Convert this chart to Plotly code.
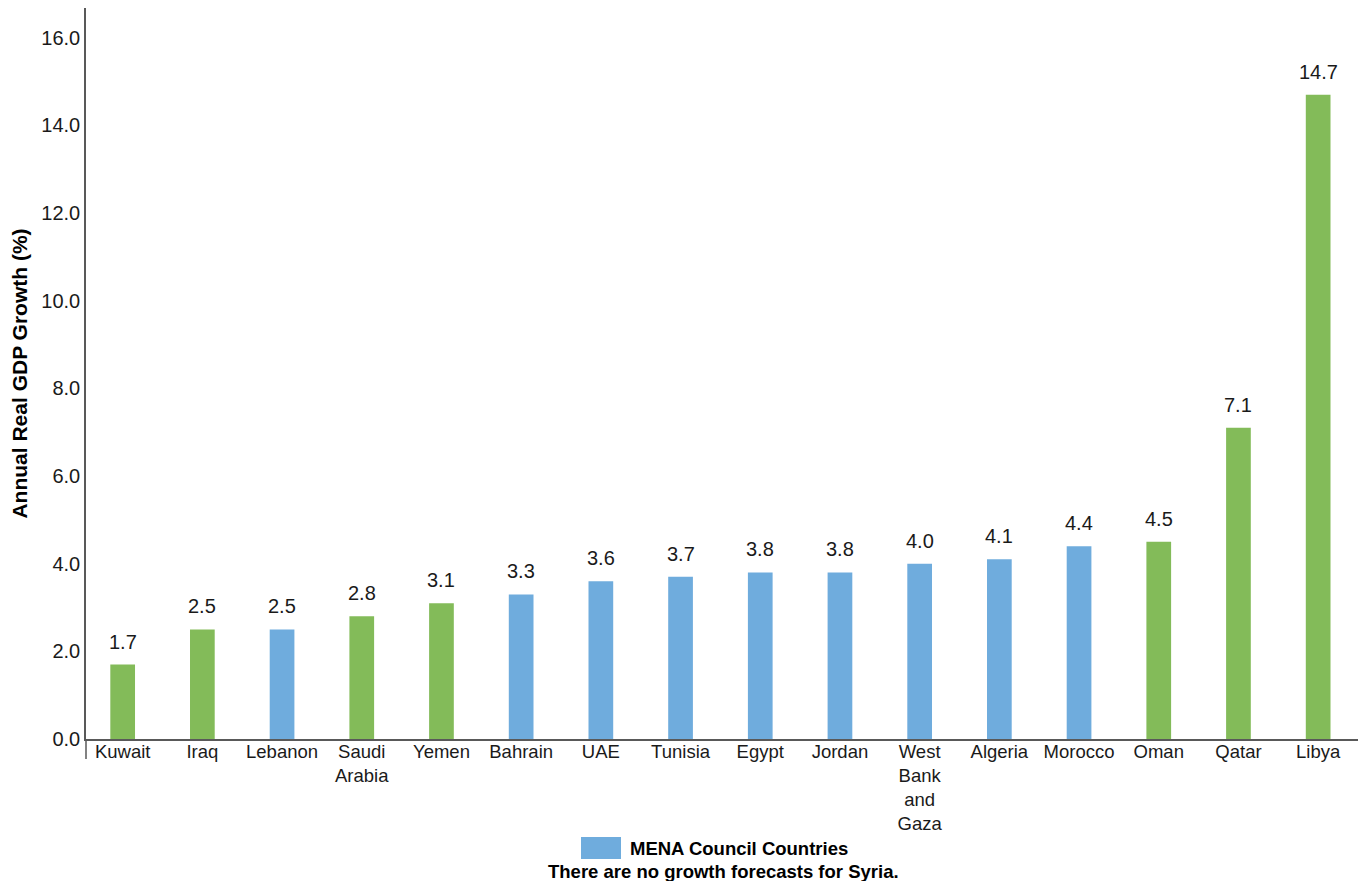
import plotly.graph_objects as go

# Annual real GDP growth forecasts by country (%)
countries = ["Kuwait", "Iraq", "Lebanon", "Saudi<br>Arabia", "Yemen", "Bahrain", "UAE",
             "Tunisia", "Egypt", "Jordan", "West<br>Bank<br>and<br>Gaza", "Algeria",
             "Morocco", "Oman", "Qatar", "Libya"]
growth = [1.7, 2.5, 2.5, 2.8, 3.1, 3.3, 3.6, 3.7, 3.8, 3.8, 4.0, 4.1, 4.4, 4.5, 7.1, 14.7]
mena_council = [False, False, True, False, False, True, True, True, True, True, True, True,
                True, False, False, False]
y_ticks = [0, 2, 4, 6, 8, 10, 12, 14, 16]

GREEN = "#83BB59"
BLUE = "#6FACDD"
FONT = "Liberation Sans, Arial, sans-serif"
AXIS_COLOR = "#595959"

colors = [BLUE if m else GREEN for m in mena_council]

fig = go.Figure()
fig.add_trace(go.Bar(
    x=countries, y=growth, marker=dict(color=colors, line=dict(width=0)),
    width=0.31, showlegend=False, hoverinfo="x+y",
))

# value labels above each bar
for c, v in zip(countries, growth):
    fig.add_annotation(x=c, y=v, text=f"{v:.1f}", showarrow=False,
                       yanchor="bottom", yshift=10,
                       font=dict(family=FONT, size=20, color="#1a1a1a"))

# legend swatch and notes below the chart
fig.add_shape(type="rect", xref="paper", yref="paper",
              x0=(581 - 86) / 1272, x1=(621 - 86) / 1272,
              y0=-(837 - 739) / 731, y1=-(859 - 739) / 731,
              fillcolor=BLUE, line=dict(width=0))
fig.add_annotation(xref="paper", yref="paper", x=(628 - 86) / 1272, y=-(848 - 739) / 731,
                   xanchor="left", yanchor="middle", showarrow=False,
                   text="<b>MENA Council Countries</b>",
                   font=dict(family=FONT, size=18.5, color="#000000"))
fig.add_annotation(xref="paper", yref="paper", x=(723 - 86) / 1272, y=-(871 - 739) / 731,
                   xanchor="center", yanchor="middle", showarrow=False,
                   text="<b>There are no growth forecasts for Syria.</b>",
                   font=dict(family=FONT, size=18.5, color="#000000"))

# short extension of the value axis below the baseline
fig.add_shape(type="line", xref="paper", yref="paper", x0=0, x1=0,
              y0=0, y1=-20 / 731, line=dict(color=AXIS_COLOR, width=1.5))

fig.update_layout(
    width=1365, height=881,
    margin=dict(l=86, r=7, t=8, b=142),
    paper_bgcolor="white", plot_bgcolor="white",
    font=dict(family=FONT, color="#1a1a1a"),
    bargap=0.69,
    xaxis=dict(
        type="category", range=[-0.46, 15.5],
        showline=True, linecolor=AXIS_COLOR, linewidth=1.5,
        showgrid=False, ticks="", tickangle=0, ticklabelstandoff=-5,
        tickfont=dict(family=FONT, size=18.5, color="#1a1a1a"),
    ),
    yaxis=dict(
        range=[0, 16.68], tickvals=y_ticks,
        ticktext=[f"{t:.1f}" for t in y_ticks],
        showline=True, linecolor=AXIS_COLOR, linewidth=1.5,
        showgrid=False, zeroline=False, ticks="",
        tickfont=dict(family=FONT, size=20, color="#1a1a1a"),
        title=dict(text="<b>Annual Real GDP Growth (%)</b>", standoff=8,
                   font=dict(family=FONT, size=21, color="#000000")),
    ),
)

fig.write_html("out.html")
